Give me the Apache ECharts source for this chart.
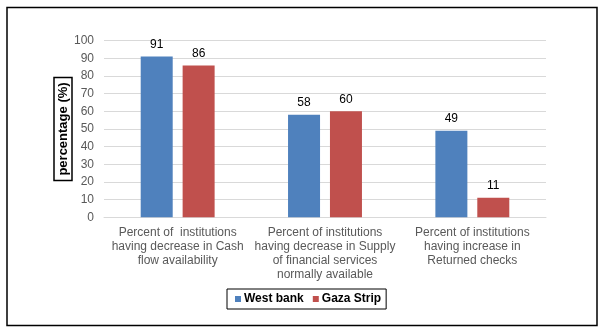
<!DOCTYPE html>
<html>
<head>
<meta charset="utf-8">
<script src="https://cdn.jsdelivr.net/npm/echarts@6/dist/echarts.min.js"></script>
<style>html,body{margin:0;padding:0;background:#fff}#c{width:600px;height:327px}</style>
</head>
<body>
<div id="c"></div>
<script>
const categories = [
  "Percent of  institutions\nhaving decrease in Cash\nflow availability",
  "Percent of institutions\nhaving decrease in Supply\nof financial services\nnormally available",
  "Percent of institutions\nhaving increase in\nReturned checks"
];
const westBank = [91, 58, 49];
const gazaStrip = [86, 60, 11];
const yTicks = [0, 10, 20, 30, 40, 50, 60, 70, 80, 90, 100];

const chart = echarts.init(document.getElementById('c'), null, {renderer: 'canvas'});
const font = 'Liberation Sans, Arial, sans-serif';
chart.setOption({
  animation: false,
  textStyle: {fontFamily: font},
  graphic: [{
    type: 'rect', left: 4.5, top: 5, z: 10,
    shape: {width: 590, height: 318},
    style: {fill: 'none', stroke: '#000', lineWidth: 1.5}
  }],
  grid: {left: 104, right: 54, top: 40.7, bottom: 109.7, containLabel: false},
  legend: {
    data: ['West bank', 'Gaza Strip'],
    left: 227, top: 289,
    itemWidth: 6, itemHeight: 6, itemGap: 9,
    icon: 'rect',
    borderColor: '#000', borderWidth: 1, padding: [4, 5, 4, 8],
    textStyle: {fontFamily: font, fontSize: 12, fontWeight: 'bold', color: '#000', padding: [0, 0, 0, -2]}
  },
  xAxis: {
    type: 'category', data: categories,
    axisTick: {show: false},
    axisLine: {lineStyle: {color: '#d9d9d9'}},
    axisLabel: {fontFamily: font, fontSize: 12, color: '#595959', lineHeight: 14, margin: 8, interval: 0}
  },
  yAxis: {
    type: 'value', min: 0, max: 100, interval: 10,
    name: 'percentage (%)', nameLocation: 'middle', nameGap: 32, nameRotate: 90,
    nameMoveOverlap: false,
    nameTextStyle: {fontFamily: font, fontSize: 13, fontWeight: 'bold', color: '#000',
      borderColor: '#000', borderWidth: 1.5, padding: [2, 5, 1, 5], lineHeight: 15},
    axisLabel: {fontFamily: font, fontSize: 12, color: '#595959', margin: 10,
      formatter: v => yTicks.includes(v) ? String(v) : ''},
    splitLine: {lineStyle: {color: '#d9d9d9'}},
    axisLine: {show: false}, axisTick: {show: false}
  },
  series: [
    {name: 'West bank', type: 'bar', data: westBank, barWidth: 32, barGap: '31%',
      itemStyle: {color: '#4F81BD'},
      label: {show: true, position: 'top', fontFamily: font, fontSize: 12, color: '#000', distance: 6}},
    {name: 'Gaza Strip', type: 'bar', data: gazaStrip, barWidth: 32,
      itemStyle: {color: '#C0504D'},
      label: {show: true, position: 'top', fontFamily: font, fontSize: 12, color: '#000', distance: 6}}
  ]
});
</script>
</body>
</html>
